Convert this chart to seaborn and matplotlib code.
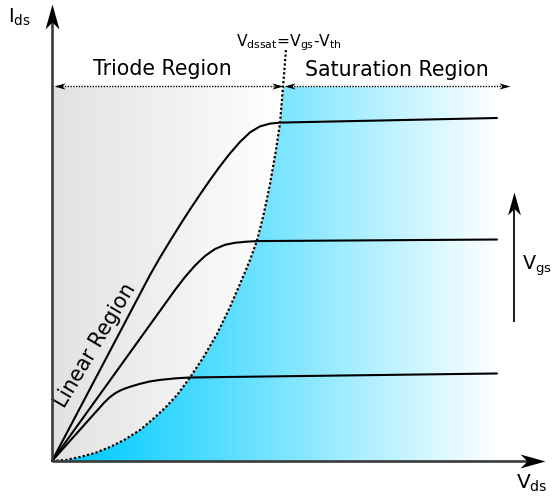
import numpy as np
import pandas as pd
import matplotlib
matplotlib.use("Agg")
import matplotlib.pyplot as plt
from matplotlib.path import Path
from matplotlib.patches import Polygon
import seaborn as sns

# Output characteristics of a MOSFET (arbitrary units): Ids versus Vds
# for three gate voltages, plus the Vdssat = Vgs - Vth boundary.
vds_high = [0, 1.079, 2.202, 2.427, 2.652, 2.876, 3.101, 3.326, 3.551,
            3.775, 4.000, 4.225, 4.449, 4.674, 4.899, 5.124, 7.371, 10.0]
ids_high = [0, 2.436, 4.973, 5.441, 5.882, 6.310, 6.725, 7.126, 7.513,
            7.882, 8.225, 8.532, 8.786, 8.947, 9.021, 9.048, 9.104, 9.171]

vds_mid = [0, 1.303, 2.764, 2.989, 3.214, 3.438, 3.663, 3.888, 4.112,
           4.337, 4.607, 10.0]
ids_mid = [0, 2.155, 4.572, 4.920, 5.227, 5.481, 5.668, 5.781, 5.834,
           5.861, 5.880, 5.922]

vds_low = [0, 1.169, 1.303, 1.416, 1.528, 1.640, 1.753, 1.978, 2.202,
           2.427, 2.764, 3.101, 10.0]
ids_low = [0, 1.556, 1.709, 1.809, 1.882, 1.938, 1.984, 2.064, 2.128,
           2.168, 2.209, 2.233, 2.340]

vds_sat = [0, 0.315, 0.629, 0.966, 1.303, 1.640, 1.978, 2.258, 2.539,
           2.820, 3.101, 3.393, 3.708, 4.000, 4.292, 4.449, 4.607, 4.742,
           4.825, 4.899, 5.034, 5.124, 5.191, 5.258]
ids_sat = [0, 0.027, 0.107, 0.214, 0.374, 0.575, 0.829, 1.110, 1.417,
           1.778, 2.233, 2.754, 3.396, 4.118, 4.920, 5.374, 5.896, 6.524,
           6.979, 7.406, 8.316, 9.037, 10.0, 10.989]

# Extent of the shaded regions
V_END = 10.0
I_TOP = 10.0

sns.set_theme(style="white")
plt.rcParams["font.family"] = ["DejaVu Sans"]
plt.rcParams["mathtext.default"] = "regular"
plt.rcParams["text.color"] = "black"

fig = plt.figure(figsize=(5.53, 4.99), dpi=100)
ax = fig.add_axes([0, 0, 1, 1])
ax.set_xlim(-1.1685, 11.2584)
ax.set_ylim(-1.016, 12.326)
ax.axis("off")

vs = np.array(vds_sat)
isat = np.array(ids_sat)
keep = isat <= I_TOP
bx, by = vs[keep], isat[keep]

# Triode region: grey to white, left of the boundary
tri_poly = Polygon(np.column_stack([np.r_[bx, 0], np.r_[by, I_TOP]]),
                   closed=True, facecolor="none", edgecolor="none")
ax.add_patch(tri_poly)
t = np.linspace(0, 1, 256)
grey0 = np.array([0.885, 0.885, 0.885])
grey = grey0[None, :] + (1 - grey0)[None, :] * t[:, None]
im1 = ax.imshow(grey[None, :, :], extent=[0, bx.max(), 0, I_TOP],
                aspect="auto", interpolation="bilinear", zorder=0)
im1.set_clip_path(tri_poly)

# Saturation region: cyan to white, right of the boundary
sat_poly = Polygon(np.column_stack([np.r_[bx, V_END, V_END],
                                    np.r_[by, I_TOP, 0]]),
                   closed=True, facecolor="none", edgecolor="none")
ax.add_patch(sat_poly)
v = np.linspace(0, V_END, 512)
tb = np.clip((v - 0.6) / (V_END - 0.6), 0, 1)
cyan0 = np.array([0.0, 0.80, 1.0])
blue = cyan0[None, :] + (1 - cyan0)[None, :] * tb[:, None]
im2 = ax.imshow(blue[None, :, :], extent=[0, V_END, 0, I_TOP],
                aspect="auto", interpolation="bilinear", zorder=0)
im2.set_clip_path(sat_poly)

# Boundary Vdssat = Vgs - Vth
ax.plot(vds_sat, ids_sat, color="black", lw=1.6, ls=(0, (1, 1)), zorder=2)

# Ids-Vds curves
curves = pd.concat([
    pd.DataFrame({"Vds": vds_high, "Ids": ids_high, "Vgs": "high"}),
    pd.DataFrame({"Vds": vds_mid, "Ids": ids_mid, "Vgs": "mid"}),
    pd.DataFrame({"Vds": vds_low, "Ids": ids_low, "Vgs": "low"}),
])
sns.lineplot(data=curves, x="Vds", y="Ids", units="Vgs", estimator=None,
             sort=False, color="black", lw=1.5, ax=ax, legend=False, zorder=3)

# Arrow head shapes
codes = [Path.MOVETO, Path.LINETO, Path.LINETO, Path.LINETO, Path.CLOSEPOLY]
head_up = Path([(0, 0), (0.28, -1), (0, -0.72), (-0.28, -1), (0, 0)], codes)
head_right = Path([(0, 0), (-1, 0.28), (-0.72, 0), (-1, -0.28), (0, 0)], codes)
head_left = Path([(0, 0), (1, 0.28), (0.72, 0), (1, -0.28), (0, 0)], codes)

axis_col = "#3a3a3a"
# Ids axis
ax.plot([0, 0], [0, 11.9], color=axis_col, lw=1.9, zorder=4,
        solid_capstyle="butt")
ax.plot([0], [12.22], marker=head_up, ms=36, color="black", mew=0, zorder=5)
# Vds axis
ax.plot([0, 10.9], [0, 0], color=axis_col, lw=1.9, zorder=4,
        solid_capstyle="butt")
ax.plot([11.08], [0], marker=head_right, ms=36, color="black", mew=0, zorder=5)

# Region extent arrows
arrow_y = 10.03
ax.plot([0.1, 5.1], [arrow_y, arrow_y], color="black", lw=1.0,
        ls=(0, (1, 1)), zorder=4)
ax.plot([0.05], [arrow_y], marker=head_left, ms=16, color="black", mew=0, zorder=5)
ax.plot([5.19], [arrow_y], marker=head_right, ms=16, color="black", mew=0, zorder=5)
ax.plot([5.3, 10.2], [arrow_y, arrow_y], color="black", lw=1.0,
        ls=(0, (1, 1)), zorder=4)
ax.plot([5.22], [arrow_y], marker=head_left, ms=16, color="black", mew=0, zorder=5)
ax.plot([10.29], [arrow_y], marker=head_right, ms=16, color="black", mew=0, zorder=5)

# Increasing Vgs arrow
ax.plot([10.38, 10.38], [3.72, 7.0], color="black", lw=1.25, zorder=4,
        solid_capstyle="butt")
ax.plot([10.38], [7.19], marker=head_up, ms=33, color="black", mew=0, zorder=5)

# Labels
ax.text(2.472, 10.49, "Triode Region", ha="center", va="center",
        fontsize=14.8)
ax.text(7.753, 10.46, "Saturation Region", ha="center", va="center",
        fontsize=14.8)
ax.text(5.33, 11.19, "V$_{dssat}$=V$_{gs}$-V$_{th}$", ha="center",
        va="center", fontsize=11.2)
ax.text(0.966, 3.10, "Linear Region", ha="center", va="center",
        fontsize=14.8, rotation=59.4, rotation_mode="anchor")
ax.text(-0.72, 11.85, "I$_{ds}$", ha="center", va="center", fontsize=14)
ax.text(10.79, -0.59, "V$_{ds}$", ha="center", va="center", fontsize=14.5)
ax.text(10.56, 5.21, "V$_{gs}$", ha="left", va="center", fontsize=13.8)

fig.savefig("out.png", dpi=100)
